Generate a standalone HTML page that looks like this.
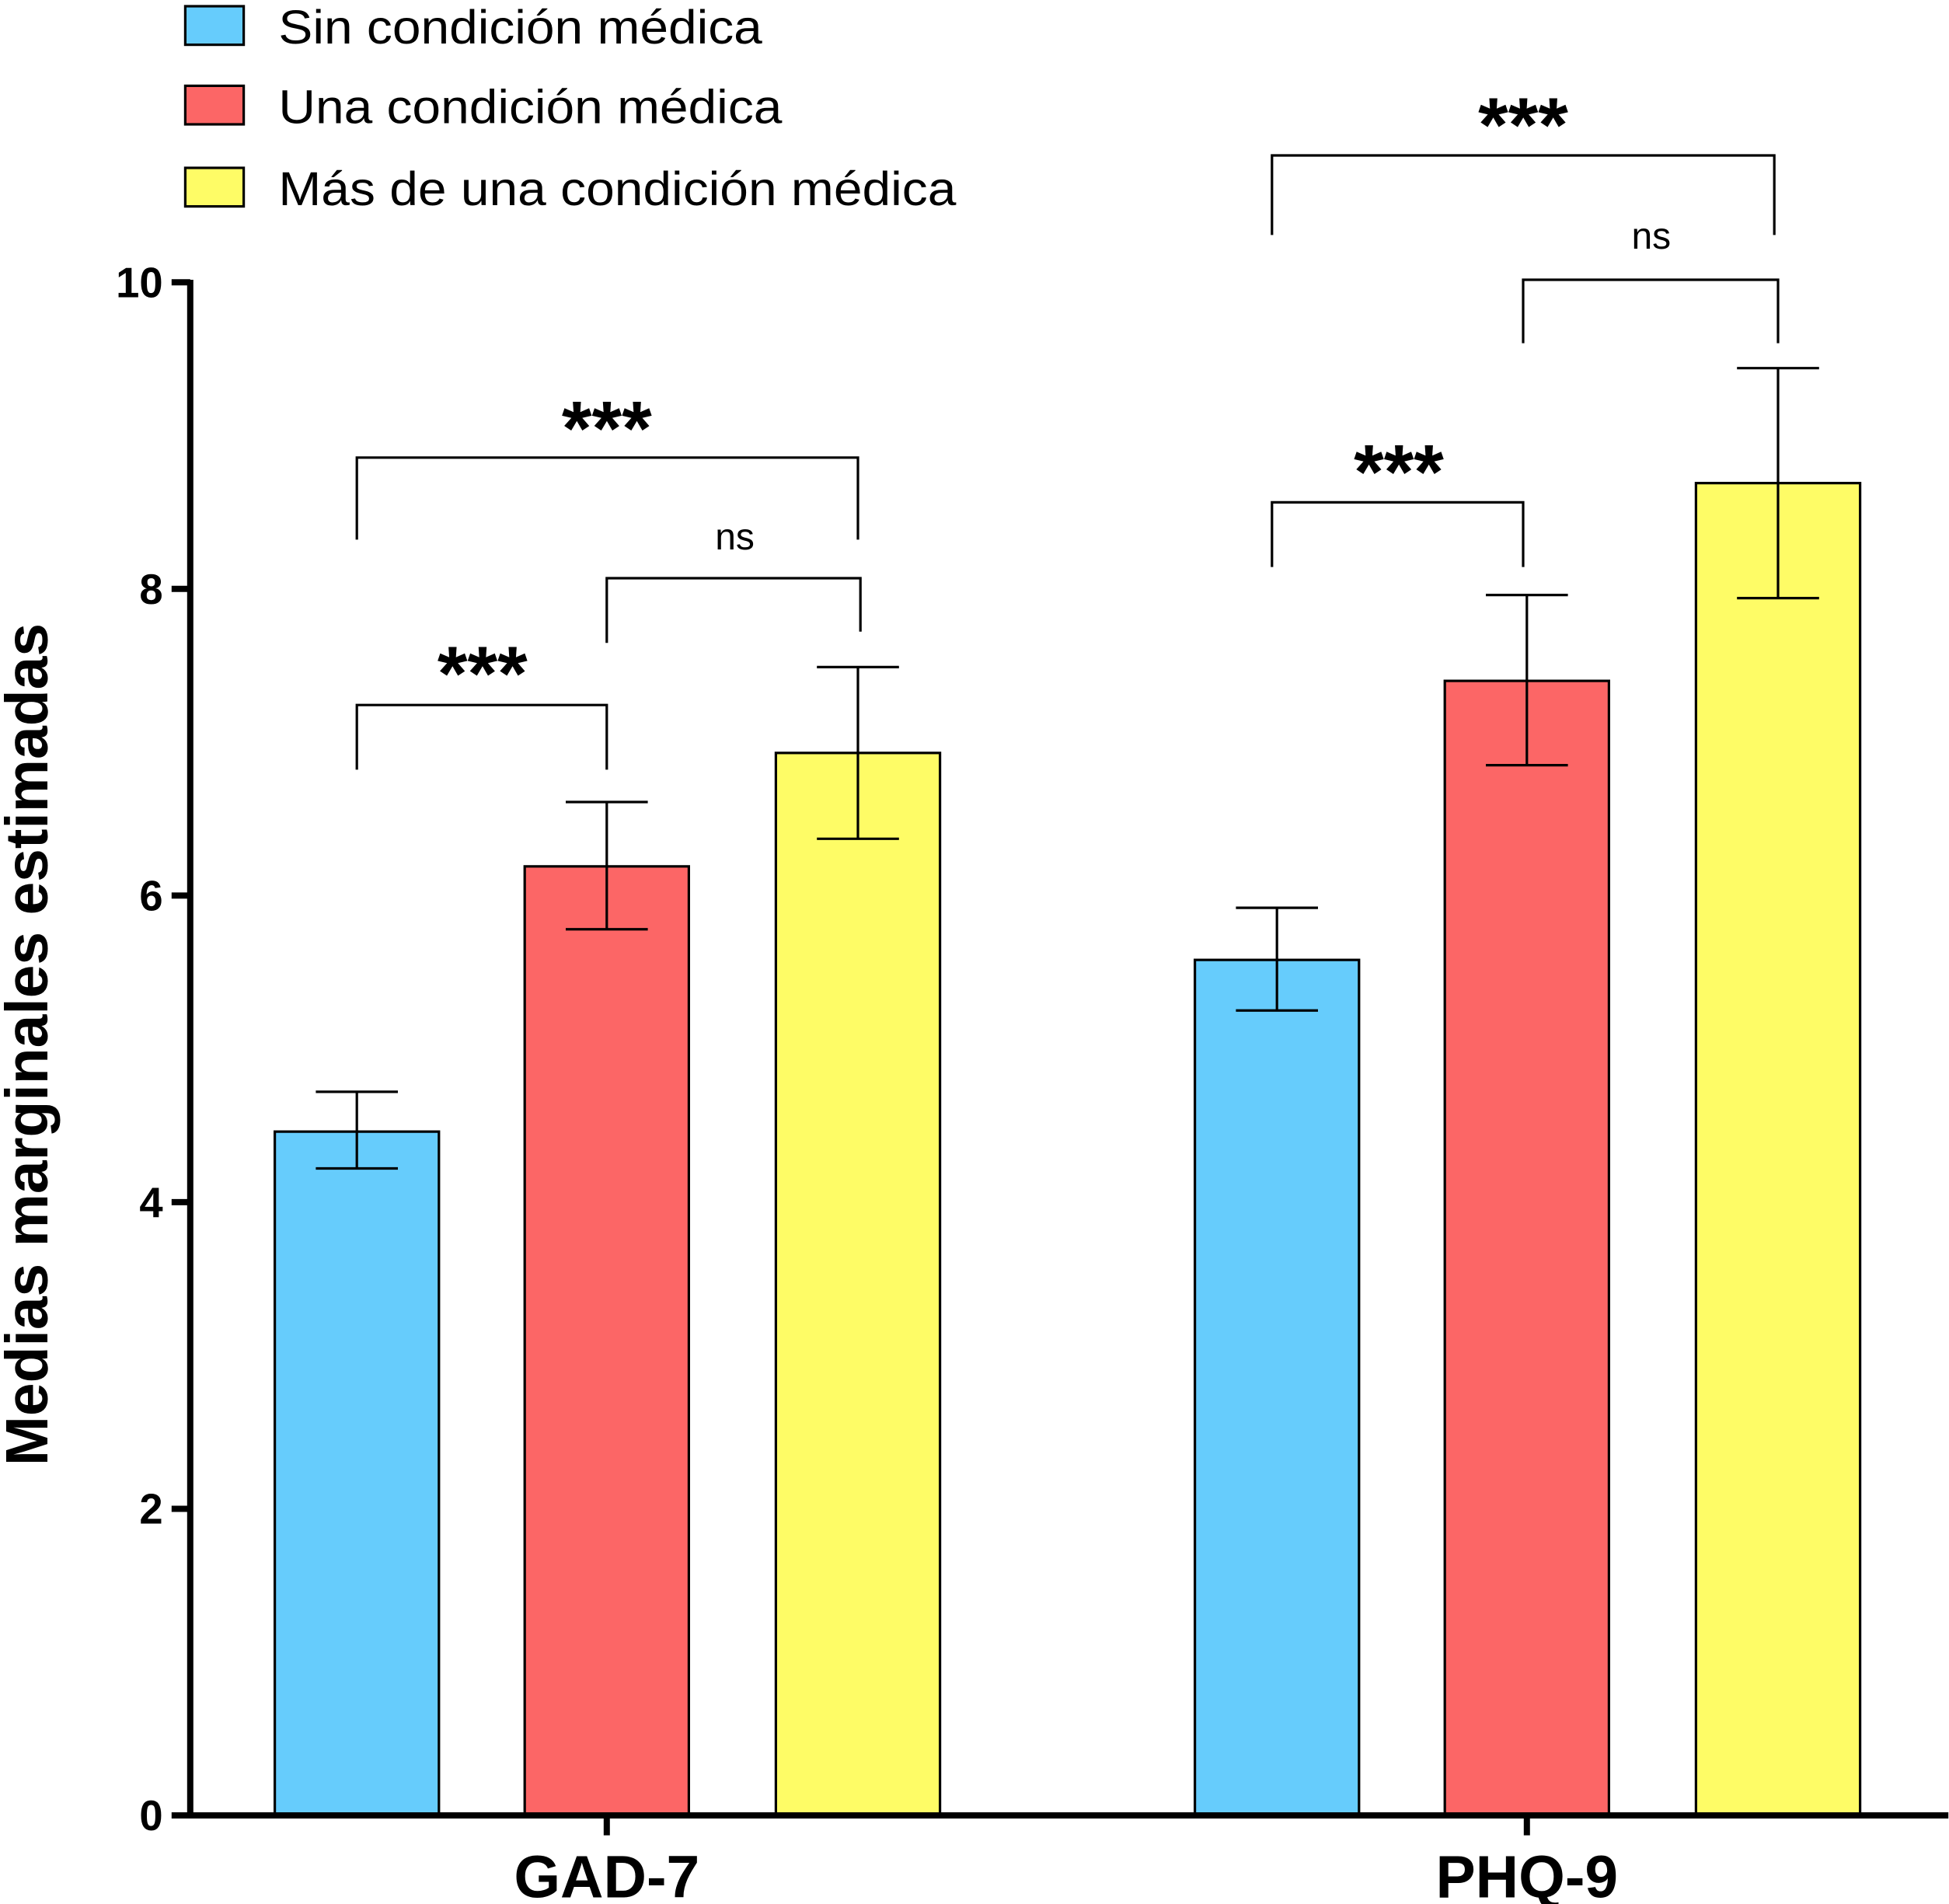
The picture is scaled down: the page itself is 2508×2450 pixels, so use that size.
<!DOCTYPE html>
<html><head><meta charset="utf-8"><style>
html,body{margin:0;padding:0;background:#fff}
svg{display:block}
text{font-family:"Liberation Sans",Arial,sans-serif}
</style></head><body>
<svg id="chart" width="2508" height="2450" viewBox="0 0 1567.5 1531.25" xmlns="http://www.w3.org/2000/svg">
<g id="legend"></g>
<g id="bars"></g>
<g id="axes"></g>
<g id="sig"></g>
</svg>
<script>
const categories = ["GAD-7","PHQ-9"];
const seriesNames = ["Sin condición médica","Una condición médica","Más de una condición médica"];
const seriesColors = ["#66ccfc","#fc6666","#fefc66"];
const meanSin = [4.46, 5.58];
const meanUna = [6.19, 7.40];
const meanMas = [6.93, 8.69];
const errHiSin = [4.72, 5.92];
const errHiUna = [6.61, 7.96];
const errHiMas = [7.49, 9.44];
const errLoSin = [4.22, 5.25];
const errLoUna = [5.78, 6.85];
const errLoMas = [6.37, 7.94];
const yTicks = [0,2,4,6,8,10];

const NS="http://www.w3.org/2000/svg";
function mk(tag, attrs, parent, txt){const e=document.createElementNS(NS,tag);for(const k in attrs)e.setAttribute(k,attrs[k]);if(txt!==undefined)e.textContent=txt;parent.appendChild(e);return e;}
const y0=1460, y10=227;
const y = v => y0 - (y0-y10)*v/10;
const groupCenter = [488, 1228];
const barOffset = [-201, 0, 202];
const barW = 132;
const xBar = (g,s) => groupCenter[g] + barOffset[s];

const means=[meanSin,meanUna,meanMas], his=[errHiSin,errHiUna,errHiMas], los=[errLoSin,errLoUna,errLoMas];
const bars=document.getElementById('bars');
for(let g=0;g<categories.length;g++){
  for(let s=0;s<3;s++){
    const cx=xBar(g,s);
    const r=mk('rect',{x:cx-barW/2,y:y(means[s][g]),width:barW,height:y(0)-y(means[s][g]),fill:seriesColors[s],stroke:'#000','stroke-width':2},bars);
    
    
    const eb=mk('path',{d:`M${cx},${y(los[s][g])}V${y(his[s][g])}M${cx-33},${y(his[s][g])}H${cx+33}M${cx-33},${y(los[s][g])}H${cx+33}`,stroke:'#000','stroke-width':2,fill:'none'},bars);
    
    
  }
}
const axes=document.getElementById('axes');
mk('path',{d:`M153,${y10-2}V${y0}H1567`,stroke:'#000','stroke-width':5,fill:'none'},axes);
yTicks.forEach(t=>{
  mk('line',{x1:138,x2:153,y1:y(t),y2:y(t),stroke:'#000','stroke-width':5},axes);
  const tl=mk('text',{x:131,y:y(t)+12,'text-anchor':'end','font-size':34,'font-weight':'bold'},axes,String(t));
  
  
});
categories.forEach((c,i)=>{
  mk('line',{x1:groupCenter[i],x2:groupCenter[i],y1:y0,y2:y0+16,stroke:'#000','stroke-width':5},axes);
  const cl=mk('text',{x:groupCenter[i],y:1526,'text-anchor':'middle','font-size':48,'font-weight':'bold'},axes,c);
  
  
});
const yt=mk('text',{x:0,y:0,transform:'translate(38,840) rotate(-90)','text-anchor':'middle','font-size':48,'font-weight':'bold'},axes,'Medias marginales estimadas');



const lg=document.getElementById('legend');
const legW=[389,405,545];
[5,69,135].forEach((ly,i)=>{
  mk('rect',{x:149,y:ly,width:47,height:31,fill:seriesColors[i],stroke:'#000','stroke-width':2},lg);
  const t=mk('text',{x:224,y:ly+30,'font-size':38,textLength:legW[i],lengthAdjust:'spacingAndGlyphs'},lg,seriesNames[i]);
  
  
});

const sig=document.getElementById('sig');
const brackets=[
 [287,488,567,619,619,'***',388,537],
 [488,692,465,517,508,'ns',591,442],
 [287,690,368,434,434,'***',488,340],
 [1023,1225,404,456,456,'***',1125,375],
 [1225,1430,225,276,276,'ns',1328,200],
 [1023,1427,125,189,189,'***',1225,96]
];
brackets.forEach(b=>{
  mk('path',{d:`M${b[0]},${b[3]}V${b[2]}H${b[1]}V${b[4]}`,stroke:'#000','stroke-width':2,fill:'none'},sig);
  const star=b[5]==='***';
  const t=mk('text',{x:b[6],y:b[7]+(star?26:0),'text-anchor':'middle','font-size':star?62:30,'font-weight':star?'bold':'normal'},sig,b[5]);
  
  
});
</script>
</body></html>
